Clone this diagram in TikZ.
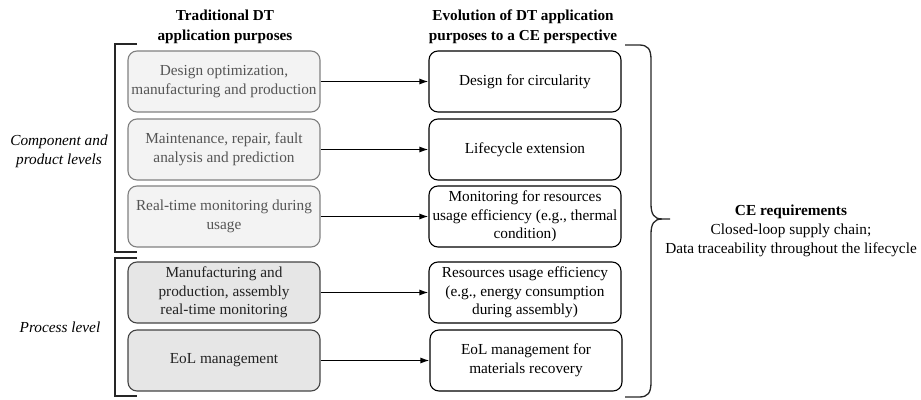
\documentclass[tikz,border=0pt]{standalone}
\usepackage{fontspec}
\setmainfont{Liberation Serif}
\usetikzlibrary{arrows.meta}
\definecolor{lightfill}{HTML}{F3F3F3}
\definecolor{lightdraw}{HTML}{808080}
\definecolor{darkfill}{HTML}{E6E6E6}
\definecolor{darkdraw}{HTML}{444444}
\definecolor{lighttext}{HTML}{555555}
\definecolor{darktext}{HTML}{222222}
\tikzset{
  box/.style={rounded corners=9pt, minimum width=192pt, minimum height=61pt, align=center, inner sep=1pt, line width=1.1pt,
    font=\fontsize{15.3}{18.7}\selectfont},
  lbox/.style={box, draw=lightdraw, fill=lightfill, text=lighttext},
  dbox/.style={box, draw=darkdraw, fill=darkfill, text=darktext},
  rbox/.style={box, draw=black, fill=white, text=black},
  conn/.style={-{Latex[length=9pt,width=6pt]}, line width=1.3pt},
  brk/.style={line width=1.3pt, draw=black!85},
  hdr/.style={font=\bfseries\fontsize{15.2}{20}\selectfont, align=center},
  side/.style={font=\itshape\fontsize{15.3}{19}\selectfont, align=center},
}
\begin{document}
\begin{tikzpicture}[x=1pt,y=-1pt]
\useasboundingbox (0,0) rectangle (921,399);
% headers
\node[hdr] (h1) at (225,26.5) {Traditional DT\\application purposes};
\node[hdr] (h2) at (523,26.5) {Evolution of DT application\\purposes to a CE perspective};
% left boxes
\node[lbox] (l1) at (224,81.5) {Design optimization,\\manufacturing and production};
\node[lbox] (l2) at (224,149.5) {Maintenance, repair, fault\\analysis and prediction};
\node[lbox] (l3) at (224,216.5) {Real-time monitoring during\\usage};
\node[dbox] (l4) at (224,292.5) {Manufacturing and\\production, assembly\\real-time monitoring};
\node[dbox] (l5) at (224,360.5) {EoL management};
% right boxes
\node[rbox] (r1) at (525,81.5) {Design for circularity};
\node[rbox] (r2) at (525,149.5) {Lifecycle extension};
\node[rbox] (r3) at (525,216.5) {Monitoring for resources\\usage efficiency (e.g., thermal\\condition)};
\node[rbox] (r4) at (525,292.5) {Resources usage efficiency\\(e.g., energy consumption\\during assembly)};
\node[rbox] (r5) at (526,360.5) {EoL management for\\materials recovery};
% connectors
\foreach \i in {1,...,5} { \draw[conn] (l\i) -- (r\i); }
% side labels
\node[side] (s1) at (59,151) {Component and\\product levels};
\node[side] (s2) at (60,327) {Process level};
% brackets
\coordinate (b1t) at (137,44);
\coordinate (b1b) at (137,252);
\coordinate (b2t) at (137,258);
\coordinate (b2b) at (137,396);
\draw[brk] (b1t) -- (115,44) -- (115,252) -- (b1b);
\draw[brk] (b2t) -- (115,258) -- (115,396) -- (b2b);
% brace
\coordinate (bt) at (625,45);
\coordinate (bb) at (625,397);
\coordinate (bm) at (670,219);
\draw[brk] (bt) -- (639,45) .. controls (648,45) and (651,49) .. (651,60)
  -- (651,204) .. controls (651,214) and (654,219) .. (662,219) -- (bm);
\draw[brk] (bb) -- (639,397) .. controls (648,397) and (651,393) .. (651,382)
  -- (651,234) .. controls (651,224) and (654,219) .. (662,219);
% CE requirements
\node[font=\fontsize{15.3}{19}\selectfont, align=center] (ce) at (791,231)
  {\textbf{CE requirements}\\Closed-loop supply chain;\\Data traceability throughout the lifecycle};
\end{tikzpicture}
\end{document}
